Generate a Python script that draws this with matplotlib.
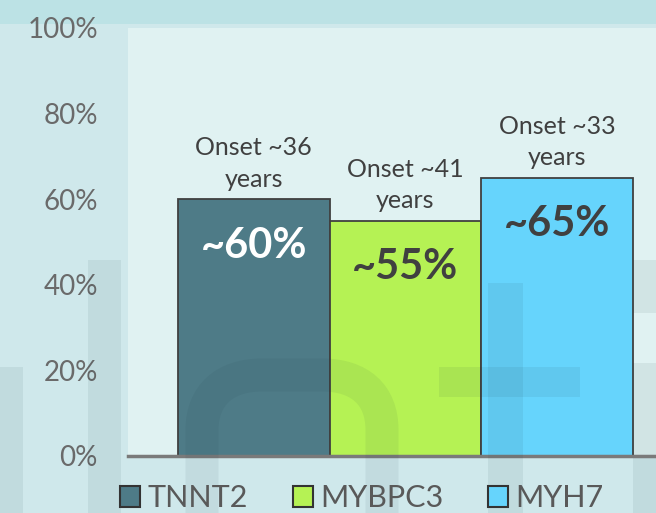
import matplotlib
matplotlib.use("Agg")
import matplotlib.pyplot as plt
from matplotlib.patches import Rectangle, Patch, PathPatch
from matplotlib.path import Path

genes = ["TNNT2", "MYBPC3", "MYH7"]
values = [60, 55, 65]
value_labels = ["~60%", "~55%", "~65%"]
onset_labels = ["Onset ~36\nyears", "Onset ~41\nyears", "Onset ~33\nyears"]
yticks = [0, 20, 40, 60, 80, 100]
ytick_labels = ["0%", "20%", "40%", "60%", "80%", "100%"]

colors = ["#4e7b87", "#b5f254", "#66d4fc"]
value_colors = ["white", "#404040", "#404040"]

FONT = ["Lato", "DejaVu Sans"]
plt.rcParams["font.family"] = FONT

W, H = 656, 513
fig = plt.figure(figsize=(W / 100, H / 100), dpi=100)
fig.patch.set_facecolor("#cfe8eb")

# top band
fig.patches.append(Rectangle((0, 1 - 24 / H), 1, 24 / H, transform=fig.transFigure,
                             facecolor="#bce2e5", edgecolor="none", zorder=0))

ax_left = 128 / W
ax_right = 656 / W
ax_bottom = 1 - 456 / H
ax_top = 1 - 28 / H
ax = fig.add_axes([ax_left, ax_bottom, ax_right - ax_left, ax_top - ax_bottom])
ax.set_facecolor("#e0f2f2")
ax.set_zorder(1)

x = list(range(len(genes)))
ax.bar(x, values, width=1.0, color=colors, edgecolor="#404040",
       linewidth=1.3, zorder=2)

unit = 152
ax.set_xlim(-0.5 - 50 / unit, 2.5 + 23 / unit)
ax.set_ylim(0, 100)
ax.set_yticks(yticks)
ax.set_yticklabels(ytick_labels)
ax.set_xticks([])
ax.tick_params(axis="y", length=0, pad=21.6, labelsize=20, labelcolor="#6a6a6a")
for s in ["top", "right", "left"]:
    ax.spines[s].set_visible(False)
ax.spines["bottom"].set_color("#7a7a7a")
ax.spines["bottom"].set_linewidth(2.5)
ax.spines["bottom"].set_zorder(3)

for xi, v, vl, vc, ol in zip(x, values, value_labels, value_colors, onset_labels):
    ax.annotate(ol, (xi, v), xytext=(0, 6), textcoords="offset points",
                ha="center", va="bottom", fontsize=18, color="#404040",
                linespacing=1.45, zorder=4)
    ax.annotate(vl, (xi, v), xytext=(0, -42), textcoords="offset points",
                ha="center", va="baseline", fontsize=30, fontweight="bold",
                color=vc, zorder=4)

# faint watermark letters overlay (pixel coordinates)
ov = fig.add_axes([0, 0, 1, 1])
ov.set_zorder(2)
ov.set_xlim(0, W)
ov.set_ylim(H, 0)
ov.axis("off")
ov.patch.set_alpha(0)
wm = dict(facecolor="#1c3a42", edgecolor="none", alpha=0.075)
for (x0, y0, x1, y1) in [(0, 367, 23, 513), (88, 260, 121, 513),
                         (488, 283, 523, 513), (439, 367, 580, 397),
                         (633, 260, 656, 313), (633, 363, 656, 455),
                         (633, 458, 656, 513)]:
    ov.add_patch(Rectangle((x0, y0), x1 - x0, y1 - y0, **wm))
verts = [(202, 513), (202, 430), (202, 395), (225, 375), (262, 375),
         (322, 375), (360, 375), (382, 395), (382, 430), (382, 513)]
codes = [Path.MOVETO, Path.LINETO, Path.CURVE4, Path.CURVE4, Path.CURVE4,
         Path.LINETO, Path.CURVE4, Path.CURVE4, Path.CURVE4, Path.LINETO]
ov.add_patch(PathPatch(Path(verts, codes), facecolor="none", edgecolor="#1c3a42",
                       alpha=0.07, linewidth=33 * 0.72, capstyle="butt"))

handles = [Patch(facecolor=c, edgecolor="#333333", linewidth=1.5) for c in colors]
leg = fig.legend(handles, genes, loc="center", bbox_to_anchor=(362 / W, 1 - 498 / H),
                 ncol=3, frameon=False, fontsize=22, labelcolor="#595959",
                 handlelength=0.66, handleheight=0.7, handletextpad=0.25,
                 columnspacing=1.45)
leg.set_zorder(3)

fig.savefig("out.png", dpi=100, facecolor=fig.get_facecolor())
